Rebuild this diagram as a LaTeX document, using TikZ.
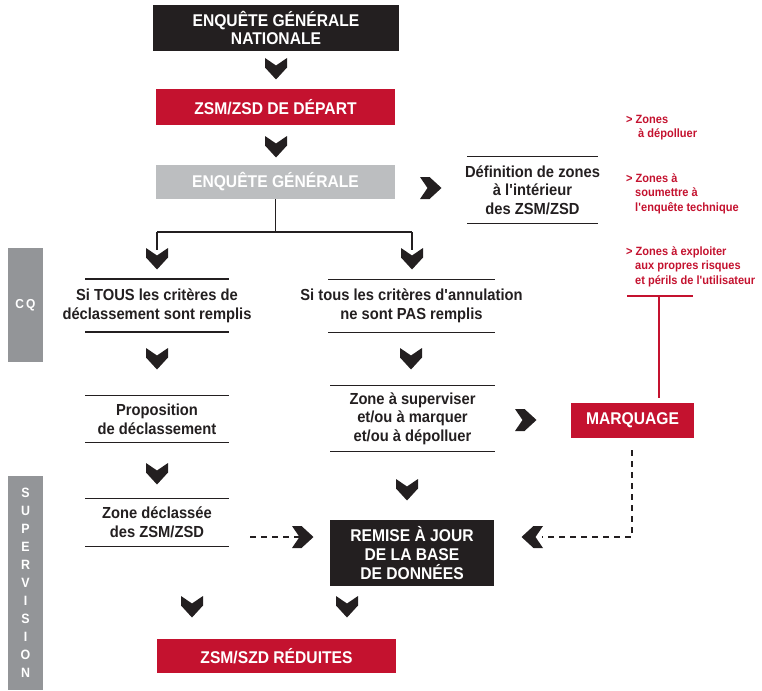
\documentclass[tikz,border=0pt]{standalone}
\usepackage{fontspec}
\setmainfont{Liberation Sans}[FakeStretch=0.92]
\definecolor{ink}{HTML}{231F20}
\definecolor{rouge}{HTML}{C4122F}
\definecolor{gris}{HTML}{BCBEC0}
\definecolor{grisf}{HTML}{939598}
\newcommand{\apos}{\textquotesingle}
\tikzset{
  box/.style={fill=#1, text=white, font=\bfseries\fontsize{17}{18.5}\selectfont, align=center, inner sep=0pt},
  ruledtext/.style={text=ink, font=\bfseries\fontsize{16}{18.7}\selectfont, align=center, inner sep=0pt},
  rule/.style={draw=ink, line width=1.6pt},
  conn/.style={draw=ink, line width=1.6pt},
  dashconn/.style={draw=ink, line width=1.6pt, dash pattern=on 6pt off 5pt},
  redlist/.style={text=rouge, font=\bfseries\fontsize{12}{14.5}\selectfont, align=left, inner sep=0pt, anchor=north west},
  pics/chev/.style={code={\fill[ink] (-11,-11) -- (0,-3.5) -- (11,-11) -- (11,-1.5) -- (0,10.5) -- (-11,-1.5) -- cycle;}}
}
% lines above and below a text node: name, half width, half height
\newcommand{\rulesof}[3]{%
  \draw[rule] ([shift={(-#2,-#3)}]#1.center) -- ([shift={(#2,-#3)}]#1.center);
  \draw[rule] ([shift={(-#2,#3)}]#1.center) -- ([shift={(#2,#3)}]#1.center);}
\begin{document}
\begin{tikzpicture}[x=1pt,y=-1pt]
\useasboundingbox (0,0) rectangle (762,690);

% side bars
\node[box=grisf, minimum width=35pt, minimum height=114pt, font=\bfseries\fontsize{13}{14}\selectfont] (cq) at (25.5,305) {C\,Q};
\node[box=grisf, minimum width=35pt, minimum height=214pt, font=\bfseries\fontsize{13.5}{18}\selectfont] (sup) at (25.5,583) {S\\U\\P\\E\\R\\V\\I\\S\\I\\O\\N};

% main boxes
\node[box=ink, minimum width=246pt, minimum height=46pt] (egn) at (276,28) {ENQUÊTE GÉNÉRALE\\NATIONALE};
\node[box=rouge, minimum width=239pt, minimum height=36pt] (dep) at (275.5,107) {ZSM/ZSD DE DÉPART};
\node[box=gris, minimum width=239pt, minimum height=34pt] (eg) at (275.5,182) {ENQUÊTE GÉNÉRALE};
\node[box=ink, minimum width=164pt, minimum height=66pt, font=\bfseries\fontsize{17}{19}\selectfont] (maj) at (412,553) {REMISE À JOUR\\DE LA BASE\\DE DONNÉES};
\node[box=rouge, minimum width=123pt, minimum height=35pt] (marq) at (632.5,420.5) {MARQUAGE};
\node[box=rouge, minimum width=239pt, minimum height=34pt] (red) at (276.5,656) {ZSM/SZD RÉDUITES};

% ruled text nodes
\node[ruledtext] (def) at (532.5,190) {Définition de zones\\à l\apos intérieur\\des ZSM/ZSD};
\node[ruledtext] (si1) at (157,305.5) {Si TOUS les critères de\\déclassement sont remplis};
\node[ruledtext] (si2) at (411.5,306) {Si tous les critères d\apos annulation\\ne sont PAS remplis};
\node[ruledtext] (prop) at (157,419) {Proposition\\de déclassement};
\node[ruledtext] (zs) at (412.5,418.5) {Zone à superviser\\et/ou à marquer\\et/ou à dépolluer};
\node[ruledtext] (zd) at (157,522.5) {Zone déclassée\\des ZSM/ZSD};
\rulesof{def}{65.5}{33.5}
\rulesof{si1}{72}{26.5}
\rulesof{si2}{83.5}{26.5}
\rulesof{prop}{72}{23.5}
\rulesof{zs}{82.5}{33}
\rulesof{zd}{72}{24}

% red list
\node[redlist] (l1) at (626,115) {> Zones\\\hspace*{12pt}à dépolluer};
\node[redlist] (l2) at (626,173) {> Zones à\\\hspace*{9pt}soumettre à\\\hspace*{9pt}l\apos enquête technique};
\node[redlist] (l3) at (626,246) {> Zones à exploiter\\\hspace*{9pt}aux propres risques\\\hspace*{9pt}et périls de l\apos utilisateur};
\coordinate (rl) at (627,296);
\coordinate (rr) at (693,296);
\coordinate (rm) at (659,296);
\draw[rouge, line width=1.6pt] (rl) -- (rr);
\draw[rouge, line width=1.6pt] (rm) -- ([yshift=5pt]rm |- marq.north);

% chevrons down (main column)
\pic at (276,69) {chev};
\pic at (276,147) {chev};
% branch
\coordinate (j) at (eg.south |- 0,232);
\coordinate (jl) at (157,232);
\coordinate (jr) at (412,232);
\draw[conn] (eg.south) -- (j);
\draw[conn] (jl) -- (jr);
\draw[conn] (jl) -- ++(0,18);
\draw[conn] (jr) -- ++(0,18);
\pic at (157,259) {chev};
\pic at (412,259) {chev};
\pic at (157,359) {chev};
\pic at (411,359) {chev};
\pic at (157,474) {chev};
\pic at (407,490) {chev};
\pic at (192,607) {chev};
\pic at (347,607) {chev};

% right chevrons
\pic[rotate=90] at (431,188) {chev};
\pic[rotate=90] at (526,420) {chev};

% dashed arrows
\coordinate (d1s) at (250,537);
\draw[dashconn] (d1s) -- (300,537);
\pic[rotate=90] at (303,537) {chev};
\coordinate (d2c) at (632,537);
\draw[dashconn] ([yshift=-12pt]marq.south -| d2c) -- (d2c) -- (542,537);
\pic[rotate=-90] at (532,537) {chev};
\end{tikzpicture}
\end{document}
